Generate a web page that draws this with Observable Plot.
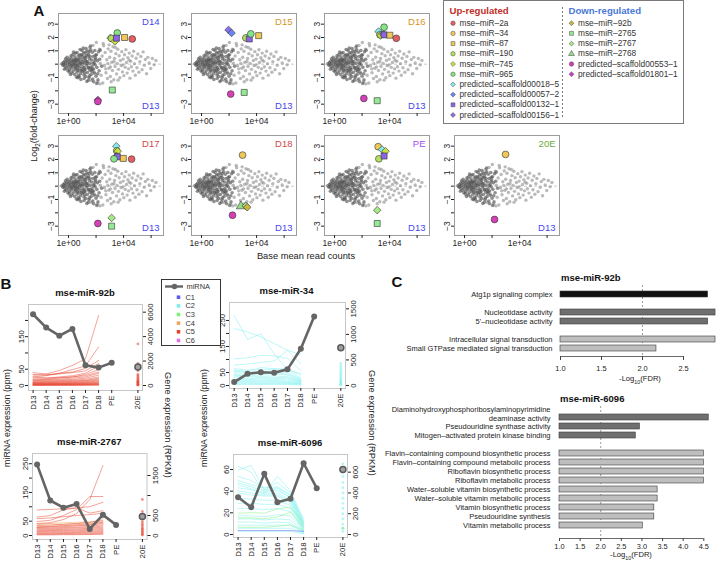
<!DOCTYPE html>
<html><head><meta charset="utf-8">
<script src="https://cdn.jsdelivr.net/npm/d3@7"></script>
<script src="https://cdn.jsdelivr.net/npm/@observablehq/plot@0.6"></script>
<style>
body{margin:0;background:#fff;}
#root{position:relative;width:716px;height:565px;overflow:hidden;background:#fff;font-family:"Liberation Sans",Arial,sans-serif;color:#222;}
.t{position:absolute;white-space:nowrap;line-height:1;}
</style></head><body><div id="root"></div>
<script>
// ---------------- DATA ----------------
// Panel A: stages compared against D13
const stageNames = ["D14","D15","D16","D17","D18","PE","20E"];
const stageColors = ["#4646ee","#d6951e","#d6951e","#d24848","#d24848","#a24cf0","#6ca83c"];
// miRNA legend
const mirNames = ["mse-miR-2a","mse-miR-34","mse-miR-87","mse-miR-190","mse-miR-745","mse-miR-965",
  "predicted-scaffold00018-5","predicted-scaffold00057-2","predicted-scaffold00132-1","predicted-scaffold00156-1",
  "mse-miR-92b","mse-miR-2765","mse-miR-2767","mse-miR-2768","predicted-scaffold00553-1","predicted-scaffold01801-1"];
const mirGroup = ["up","up","up","up","up","up","up","up","up","up","down","down","down","down","down","down"];
const mirColors = ["#e46060","#f0c858","#f0c858","#b4e05a","#c8e040","#84e684",
  "#86e8ea","#6a86f0","#8c64e6","#8a70ec",
  "#ccb640","#94ea94","#a4ea84","#96dc88","#d640b6","#c444c8"];
const mirShapes = ["circle","circle","square","circle","diamond2","circle",
  "diamond2","diamond2","square","diamond2",
  "diamond2","square","diamond2","triangle","circle","diamond2"];
// highlighted miRNAs: stage, miRNA, log10(base mean), log2(fold-change)
const markers = [
  {p:"D14",m:"predicted-scaffold00018-5",x:3.05,y:1.97},{p:"D14",m:"mse-miR-190",x:3.12,y:1.93},
  {p:"D14",m:"mse-miR-745",x:3.37,y:1.71},{p:"D14",m:"mse-miR-965",x:3.54,y:2.34},
  {p:"D14",m:"predicted-scaffold00132-1",x:3.48,y:1.95},{p:"D14",m:"mse-miR-87",x:4.07,y:2.0},
  {p:"D14",m:"mse-miR-2a",x:4.63,y:1.89},{p:"D14",m:"mse-miR-2765",x:3.18,y:-1.94},
  {p:"D14",m:"predicted-scaffold01801-1",x:2.13,y:-2.68},{p:"D14",m:"predicted-scaffold00553-1",x:2.13,y:-2.8},
  {p:"D15",m:"predicted-scaffold00156-1",x:1.96,y:2.57},{p:"D15",m:"predicted-scaffold00057-2",x:2.18,y:2.34},
  {p:"D15",m:"mse-miR-190",x:3.22,y:1.97},{p:"D15",m:"predicted-scaffold00132-1",x:3.47,y:1.89},
  {p:"D15",m:"mse-miR-965",x:3.58,y:2.27},{p:"D15",m:"mse-miR-87",x:4.15,y:2.14},
  {p:"D15",m:"predicted-scaffold00553-1",x:2.12,y:-2.24},{p:"D15",m:"mse-miR-2765",x:3.1,y:-2.12},
  {p:"D16",m:"predicted-scaffold00018-5",x:3.2,y:2.45},{p:"D16",m:"mse-miR-190",x:3.3,y:2.2},
  {p:"D16",m:"mse-miR-745",x:3.35,y:2.15},{p:"D16",m:"predicted-scaffold00156-1",x:3.55,y:2.25},
  {p:"D16",m:"predicted-scaffold00132-1",x:3.6,y:2.2},{p:"D16",m:"mse-miR-965",x:3.6,y:2.77},
  {p:"D16",m:"mse-miR-87",x:4.02,y:2.17},{p:"D16",m:"mse-miR-2a",x:4.49,y:1.94},
  {p:"D16",m:"predicted-scaffold00553-1",x:2.13,y:-2.57},{p:"D16",m:"mse-miR-2765",x:3.1,y:-2.74},
  {p:"D17",m:"predicted-scaffold00018-5",x:3.47,y:3.0},{p:"D17",m:"mse-miR-190",x:3.5,y:2.65},
  {p:"D17",m:"mse-miR-745",x:3.57,y:2.62},{p:"D17",m:"predicted-scaffold00156-1",x:3.5,y:2.25},
  {p:"D17",m:"predicted-scaffold00132-1",x:3.55,y:2.2},{p:"D17",m:"mse-miR-965",x:3.3,y:2.05},
  {p:"D17",m:"mse-miR-87",x:3.98,y:2.08},{p:"D17",m:"mse-miR-2a",x:4.58,y:2.03},
  {p:"D17",m:"predicted-scaffold00553-1",x:2.13,y:-2.8},{p:"D17",m:"mse-miR-2767",x:3.13,y:-2.38},
  {p:"D17",m:"mse-miR-2765",x:3.13,y:-3.0},
  {p:"D18",m:"mse-miR-34",x:2.98,y:2.33},{p:"D18",m:"mse-miR-2768",x:2.86,y:-1.5},
  {p:"D18",m:"mse-miR-2767",x:3.22,y:-1.48},{p:"D18",m:"mse-miR-92b",x:3.32,y:-1.58},
  {p:"D18",m:"predicted-scaffold00553-1",x:2.25,y:-2.18},
  {p:"PE",m:"mse-miR-34",x:3.17,y:2.96},{p:"PE",m:"predicted-scaffold00018-5",x:3.45,y:2.75},
  {p:"PE",m:"mse-miR-745",x:3.7,y:2.62},{p:"PE",m:"mse-miR-190",x:3.22,y:2.05},
  {p:"PE",m:"predicted-scaffold00132-1",x:3.6,y:2.26},{p:"PE",m:"mse-miR-2767",x:3.1,y:-1.8},
  {p:"PE",m:"mse-miR-2765",x:3.1,y:-2.8},
  {p:"20E",m:"mse-miR-34",x:2.98,y:2.38},{p:"20E",m:"predicted-scaffold00553-1",x:2.18,y:-2.5}
];
// background miRNAs: [log10(base mean), log2(fold-change)] — dense low-count cluster and sparser high-count ones
const bgDark = [
[-0.48,0.03],[-0.41,-0.08],[-0.37,0.12],[-0.33,-0.02],[-0.28,0.21],[-0.26,-0.17],[-0.21,0.07],[-0.18,-0.31],[-0.12,0.28],[-0.09,-0.06],
[-0.05,0.16],[-0.02,-0.22],[0.03,0.37],[0.06,0.02],[0.08,-0.41],[0.13,0.11],[0.16,-0.13],[0.19,0.46],[0.22,-0.29],[0.27,0.24],
[0.29,-0.03],[0.33,-0.52],[0.36,0.33],[0.39,0.08],[0.42,-0.21],[0.46,0.55],[0.48,-0.38],[0.52,0.17],[0.55,-0.09],[0.58,0.41],
[0.61,-0.61],[0.63,0.04],[0.67,0.29],[0.69,-0.27],[0.72,0.63],[0.75,-0.47],[0.78,0.12],[0.81,-0.14],[0.83,0.48],[0.87,-0.71],
[0.89,0.22],[0.92,-0.33],[0.95,0.71],[0.97,0.01],[1.01,-0.56],[1.03,0.36],[1.06,-0.19],[1.09,0.84],[1.12,-0.82],[1.14,0.09],
[1.17,0.52],[1.2,-0.41],[1.23,0.27],[1.26,-0.93],[1.28,0.66],[1.31,-0.07],[1.34,0.98],[1.37,-0.62],[1.4,0.18],[1.43,-0.28],
[1.46,0.77],[1.49,-1.02],[1.52,0.41],[1.55,-0.46],[1.58,0.06],[1.61,1.08],[1.64,-0.78],[1.67,0.31],[1.7,-0.17],[1.73,0.89],
[1.76,-1.11],[1.79,0.57],[1.82,-0.36],[1.85,0.14],[1.88,-0.69],[1.91,1.02],[1.94,-0.05],[1.97,0.46],[2.0,-0.91],[2.03,0.71],
[2.06,-0.24],[2.1,0.25],[2.14,-1.18],[2.18,0.93],[2.22,-0.49],[2.26,0.37],
[0.11,0.25],[0.24,-0.11],[0.35,0.19],[0.44,-0.02],[0.53,-0.26],[0.57,0.27],[0.66,-0.12],[0.74,0.37],[0.86,0.05],[0.93,-0.48],
[1.04,0.15],[1.16,-0.28],[1.24,0.45],[1.36,0.03],[1.47,-0.24],[1.56,0.58],[1.69,-0.55],[1.81,0.03],[1.92,0.32],[0.71,-0.86],
[1.0,0.6],[1.19,-0.67],[1.41,0.62],[1.62,-0.31],
[0.05,-0.58],[0.18,0.62],[0.31,0.71],[0.44,-0.77],[0.62,0.88],[0.79,-0.95],[0.98,1.02],[1.13,-1.08],[1.27,1.18],[1.44,-1.21],
[0.25,-0.66],[0.5,0.82],[0.68,-1.02],[0.9,-1.15],[1.07,1.2],[1.33,-1.3],[1.6,1.35],[1.83,-1.32],[2.05,-1.45],[2.3,1.05],
[-0.22,0.41],[-0.3,-0.38],[-0.1,0.52],[-0.05,-0.49],[0.14,-0.78],[0.37,0.9],[0.57,-0.97],[0.84,1.1],[1.21,0.88],[1.52,-0.88],
[0.47,0.33],[0.64,-0.44],[0.82,0.71],[1.11,-0.45],[1.29,0.2],[1.5,0.97],[1.72,-0.41],[1.95,0.66],[2.12,-0.72],[2.4,-0.15]
];
const bgLight = [
[1.53,1.25],[1.66,-1.22],[1.78,1.41],[1.87,-0.58],[2.02,1.62],[2.11,-1.34],[2.24,1.13],[2.31,0.08],[2.37,-0.83],[2.44,0.61],
[2.49,-1.41],[2.55,1.38],[2.61,-0.12],[2.66,0.87],[2.72,-0.64],[2.78,0.33],[2.83,-1.08],[2.88,1.15],[2.93,-0.31],[2.99,0.52],
[3.04,-0.92],[3.08,0.97],[3.14,0.14],[3.19,-0.47],[3.23,1.31],[3.29,-1.17],[3.34,0.42],[3.38,-0.18],[3.44,0.79],[3.49,-0.73],
[3.53,0.05],[3.58,1.12],[3.63,-0.39],[3.68,0.63],[3.73,-1.02],[3.77,0.27],[3.82,-0.11],[3.87,0.94],[3.92,-0.58],[3.97,0.38],
[4.02,-0.86],[4.07,0.71],[4.12,-0.24],[4.17,1.09],[4.21,0.12],[4.26,-0.67],[4.31,0.49],[4.36,-0.35],[4.41,0.83],[4.46,-1.05],
[4.52,0.22],[4.57,-0.19],[4.62,0.61],[4.68,-0.52],[4.73,0.97],[4.79,0.04],[4.85,-0.83],[4.91,0.44],[4.97,-0.27],[5.04,0.76],
[5.11,-0.61],[5.18,0.18],[5.26,0.58],[5.34,-0.41],[5.42,0.92],[5.5,-0.09],[5.58,0.35],[5.67,-0.72],[5.76,0.51],[5.86,0.09],
[5.97,-0.32],[6.09,0.43],[6.22,-0.05],[6.35,0.27],
[2.28,-1.48],[2.52,1.55],[2.95,1.45],[3.1,-1.32],[3.4,1.25],[3.6,-1.2],[2.85,0.05],[3.3,0.2],[3.95,-0.05],[4.4,0.3],[2.7,-0.35],[3.05,-0.2]
];

// Panel B
const dayLabels = ["D13","D14","D15","D16","D17","D18","PE","20E"];
const dayPos = [0,1,2,3,4,5,6,8];
const clusterNames = ["C1","C2","C3","C4","C5","C6"];
const clusterColors = ["#5a5af0","#7aeeee","#7cf07c","#f2a260","#e6432f","#e270ea"];
// miRNA expression (ppm) at D13..PE, then 20E
const mir92b = [219,178,153,174,62,55,70,57];
const mir34 = [13,45,51,49,62,141,265,145];
const mir2767 = [247,122,97,110,23,72,37,66];
const mir6096 = [34.4,25.2,56,29.8,33,65.8,42.8,60];
// target gene expression (RPKM) D13..D18
const g92b_C5 = [[1050,950,1230,1640,2180,5730],[700,800,1000,1300,1600,3150],[900,850,1000,1100,1400,2050],
 [850,880,950,1050,1200,1800],[600,620,700,800,1000,1600],[500,520,600,700,900,1300],[700,600,650,700,800,1100],
 [450,480,520,600,700,1000],[400,420,450,500,600,850],[350,360,400,430,500,700],[300,320,340,380,420,600],
 [250,270,300,330,380,520],[220,230,250,280,320,450],[200,200,210,240,270,380],[180,170,180,200,230,320],
 [150,150,160,170,200,260],[120,130,130,140,160,210],[100,100,110,120,130,170],[80,80,90,95,110,140],
 [60,60,70,70,80,100],[40,45,50,55,60,80],[20,25,30,30,35,50],[10,10,15,15,20,25]];
const g92b_C5_20E = [3400,1800,1500,1200,900,800,700,600,500,400,350,300,250,200,150,100,60,30];
const g34_C2 = [[1370,900,1010,620,300,230],[1110,1050,950,820,690,420],[520,540,590,580,530,290],
 [400,420,450,480,690,600],[330,300,310,320,330,200],[300,280,350,330,300,150],[280,260,270,290,250,130],
 [250,240,230,250,220,120],[220,200,210,230,200,100],[200,190,180,190,170,90],[180,170,160,160,150,80],
 [150,140,140,140,130,70],[120,120,110,120,100,60],[100,100,90,100,80,50],[80,80,70,80,60,40],
 [60,60,50,60,50,30],[40,40,35,40,35,20],[20,20,20,20,20,10]];
const g34_C2_20E = [430,380,340,300,260,220,190,160,130,100,80,60,40,20,10];
const g2767_C5 = [[300,320,400,550,900,1750],[350,380,500,650,975,975],[640,650,670,690,720,830],
 [460,500,640,690,560,620],[420,440,470,500,520,560],[250,260,280,300,330,380],[220,230,250,270,290,330],
 [200,210,220,240,260,300],[180,185,200,210,230,270],[160,165,175,190,200,240],[140,145,150,165,180,210],
 [120,125,130,140,155,180],[100,105,110,120,130,150],[80,85,90,95,105,125],[60,65,70,75,80,100],
 [45,45,50,55,60,75],[30,30,35,35,40,50],[15,15,20,20,25,30]];
const g2767_C4 = [[290,300,320,330,340,350],[270,290,280,300,320,420],[200,220,240,250,270,330]];
const g2767_C5_20E = [900,600,500,420,350,300,260,220,180,150,120,90,60,30,10];
const g6096_C2 = [[655,600,400,560,420,150],[620,665,430,450,380,130],[560,520,440,500,400,120],
 [520,480,450,460,380,110],[500,460,420,420,360,100],[480,440,400,440,350,90],[450,430,390,400,330,80],
 [420,400,380,380,320,70],[400,380,370,370,300,60],[350,340,330,330,280,50],[300,300,290,290,250,40],
 [250,250,240,250,220,35],[180,180,170,190,180,30],[150,150,140,150,140,25],[120,120,110,120,110,20],
 [90,90,90,90,90,15],[60,60,60,60,60,10],[30,30,30,30,30,5]];
const g6096_C3 = [[205,210,205,247,263,103],[161,161,150,170,215,70],[70,70,70,80,90,40]];
const g6096_C1 = [[38,38,38,38,38,30]];
const g6096_C2_20E = [680,640,600,560,500,450,400,350,300,250,200,150,100,60,30];
const g6096_C3_20E = [60];

// Panel C
const c92bTerms = ["Atg1p signaling complex","Nucleotidase activity","5'–nucleotidase activity",
 "Intracellular signal transduction","Small GTPase mediated signal transduction"];
const c92bValues = [2.80,2.89,2.80,2.89,2.17];
const c92bType = ["CC","MF","MF","BP","BP"];
const c6096Terms = ["Diaminohydroxyphosphoribosylaminopyrimidine\ndeaminase activity","Pseudouridine synthase activity",
 "Mitogen–activated protein kinase binding","Flavin–containing compound biosynthetic process",
 "Flavin–containing compound metabolic process","Riboflavin biosynthetic process","Riboflavin metabolic process",
 "Water–soluble vitamin biosynthetic process","Water–soluble vitamin metabolic process",
 "Vitamin biosynthetic process","Pseudouridine synthesis","Vitamin metabolic process"];
const c6096Values = [4.62,2.95,2.85,4.50,4.50,4.50,4.50,3.38,3.38,3.30,3.30,3.02];
const c6096Type = ["MF","MF","MF","BP","BP","BP","BP","BP","BP","BP","BP","BP"];
const typeNames = ["CC","MF","BP"];
const typeColors = ["#111111","#6f6f6f","#bebebe"];
const c92bTicks = [1.0,1.5,2.0,2.5];
const c6096Ticks = [1.0,1.5,2.0,2.5,3.0,3.5,4.0,4.5];

// ---------------- DRAWING ----------------
const root = document.getElementById("root");
const FONT = "Liberation Sans, Arial, sans-serif";
const baseStyle = {fontFamily: FONT, fontSize: "8px", background: "transparent", overflow: "visible", color: "#222"};
function put(node, left, top){ node.style.position="absolute"; node.style.left=left+"px"; node.style.top=top+"px"; root.appendChild(node); return node; }
function txt(html, x, y, o={}){
  const d=document.createElement("div"); d.className="t"; d.innerHTML=html;
  d.style.left=x+"px"; d.style.top=y+"px";
  d.style.fontSize=(o.size||9)+"px"; d.style.fontWeight=o.weight||"normal"; d.style.color=o.color||"#222";
  const ax = o.anchor==="start"?"0":o.anchor==="end"?"-100%":"-50%";
  d.style.transform=`translate(${ax},-50%)`+(o.rotate?` rotate(${o.rotate}deg)`:"");
  root.appendChild(d); return d;
}
const dash = s => s.replace(/-/g,"–");

// ---- Panel A ----
const aLayout = [[58,13],[191,13],[324,13],[58,135],[191,135],[324,135],[454,135]];
const yLab = {3:"3",2:"2",1:"1","-1":"−1","-3":"−3"};
stageNames.forEach((name,i)=>{
  const [fl,ft]=aLayout[i];
  const mL=22,mR=2,mT=2,mB=20, fw=105, fh=100;
  const pts = markers.filter(d=>d.p===name);
  const svg = Plot.plot({
    width:fw+mL+mR, height:fh+mT+mB, marginLeft:mL, marginRight:mR, marginTop:mT, marginBottom:mB, style:baseStyle,
    x:{domain:[-0.73,6.9]}, y:{domain:[-3.7,3.8]},
    symbol:{domain:mirNames, range:mirShapes}, color:{domain:mirNames, range:mirColors},
    marks:[
      Plot.frame({stroke:"#9c9c9c"}),
      Plot.ruleY([0],{stroke:"#b4b4b4",strokeDasharray:"3,2",strokeWidth:0.7}),
      Plot.dot(bgLight,{x:d=>d[0],y:d=>d[1],r:1.7,fill:"#8c8c8c",fillOpacity:0.6}),
      Plot.dot(bgDark,{x:d=>d[0],y:d=>d[1],r:1.8,fill:"#555",fillOpacity:0.65}),
      Plot.dot(pts,{x:"x",y:"y",symbol:"m",fill:"m",stroke:"#333",strokeWidth:0.6,r:3.4}),
      Plot.text([name],{frameAnchor:"top-right",dx:-4,dy:5,fill:stageColors[i],fontSize:9.5}),
      Plot.text(["D13"],{frameAnchor:"bottom-right",dx:-4,dy:-5,fill:"#4646ee",fontSize:9.5}),
      Plot.axisX({ticks:[0,2,4,6],tickFormat:d=>d===0?"1e+00":d===4?"1e+04":"",tickSize:3,tickPadding:1,fontSize:8.5,label:null}),
      Plot.axisY({ticks:[-3,-2,-1,0,1,2,3],tickFormat:d=>yLab[d]||"",tickRotate:-90,tickSize:3,tickPadding:2,fontSize:8.5,label:null})
    ]});
  put(svg, fl-mL, ft-mT);
});
txt("A",39,10,{size:15,weight:"bold",color:"#111"});
txt("Log<sub style='font-size:0.7em'>2</sub>(fold-change)",36,126,{size:9,rotate:-90});
txt("Base mean read counts",306,257,{size:9.3});

// A legend
{
  let ui=0, di=0;
  const rows = mirNames.map((m,i)=>{ const up = mirGroup[i]==="up"; return {m, col: up?0:1, row: up?ui++:di++}; });
  const lg = Plot.plot({
    width:240, height:123, margin:0, style:baseStyle,
    x:{type:"identity",axis:null}, y:{type:"identity",axis:null},
    symbol:{domain:mirNames, range:mirShapes}, color:{domain:mirNames, range:mirColors},
    marks:[
      Plot.frame({stroke:"#7a7a7a"}),
      Plot.ruleX([119],{y1:7,y2:118,stroke:"#777",strokeDasharray:"2,2"}),
      Plot.text(["Up-regulated"],{x:6,y:10,textAnchor:"start",fill:"#c0302a",fontWeight:"bold",fontSize:9.6}),
      Plot.text(["Down-regulated"],{x:125,y:10,textAnchor:"start",fill:"#4a78d6",fontWeight:"bold",fontSize:9.6}),
      Plot.dot(rows,{x:d=>d.col?128:9.5,y:d=>22.7+d.row*10.2,symbol:"m",fill:"m",stroke:"#444",strokeWidth:0.5,r:2.2}),
      Plot.text(rows,{x:d=>d.col?134.5:16,y:d=>22.7+d.row*10.2,text:d=>dash(d.m),textAnchor:"start",fontSize:8.3,fill:"#333"})
    ]});
  put(lg,443,0);
}

// ---- Panel B ----
function longify(lines, cluster){ const out=[]; lines.forEach((vals,i)=>vals.forEach((v,t)=>out.push({id:cluster+"_"+i,cluster,t,v}))); return out; }
function pts20E(vals, cluster){ return vals.map(v=>({cluster,v})); }
function bPanel(c){
  const mL=24,mR=26,mB=26;
  const W=(c.fr-c.fl)+mL+mR, H=(c.fb-c.ft)+mB;
  const xd=[-0.35,8.35];
  const common={width:W,height:H,marginLeft:mL,marginRight:mR,marginTop:0,marginBottom:mB,style:baseStyle};
  const gp = Plot.plot({...common, x:{domain:xd}, y:{domain:c.rightDom},
    color:{domain:clusterNames, range:clusterColors},
    marks:[
      Plot.frame({stroke:"#c6c6c6"}),
      Plot.lineY(c.genes,{x:d=>dayPos[d.t],y:"v",z:"id",stroke:"cluster",strokeWidth:0.9,strokeOpacity:0.55}),
      Plot.dot(c.g20E,{x:()=>8,y:"v",fill:"cluster",r:1.4,fillOpacity:0.55}),
      Plot.axisY({anchor:"right",ticks:c.rightTicks,tickFormat:d=>c.rightShow.includes(d)?String(d):"",tickRotate:-90,lineAnchor:"top",textAnchor:"middle",tickSize:3,tickPadding:2,fontSize:7.8,label:null}),
      Plot.axisX({ticks:dayPos,tickFormat:d=>dayLabels[dayPos.indexOf(d)],tickRotate:-90,tickSize:3,tickPadding:2,fontSize:7.8,label:null})
    ]});
  const rows = c.mir.map((v,i)=>({x:dayPos[i],v}));
  const mp = Plot.plot({...common, x:{domain:xd,axis:null}, y:{domain:c.leftDom},
    marks:[
      Plot.line(rows.slice(0,7),{x:"x",y:"v",stroke:"#656565",strokeWidth:2.6}),
      Plot.dot(rows.slice(0,7),{x:"x",y:"v",fill:"#656565",r:3}),
      Plot.dot(rows.slice(7),{x:"x",y:"v",fill:"#a0a0a0",stroke:"#5a5a5a",strokeWidth:1.5,r:3}),
      Plot.axisY({anchor:"left",ticks:c.leftTicks,tickFormat:d=>c.leftShow.includes(d)?String(d):"",tickRotate:-90,tickSize:3,tickPadding:2,fontSize:7.8,label:null})
    ]});
  put(gp,c.fl-mL,c.ft); put(mp,c.fl-mL,c.ft);
  txt(c.title,(c.fl+c.fr)/2,c.ft-11,{size:9.5,weight:"bold",color:"#111"});
}
bPanel({title:"mse-miR-92b",fl:28,fr:142,ft:304,fb:390,leftDom:[-15.4,249],rightDom:[-409,6628],
  leftTicks:[0,50,100,150,200],leftShow:[0,50,150],rightTicks:[0,2000,4000,6000],rightShow:[0,2000,4000,6000],
  genes:longify(g92b_C5,"C5"),g20E:pts20E(g92b_C5_20E,"C5"),mir:mir92b});
bPanel({title:"mse-miR-34",fl:228.5,fr:344.5,ft:302,fb:388,leftDom:[-11.5,319],rightDom:[-59,1624],
  leftTicks:[0,50,100,150,200,250],leftShow:[0,50,150,250],rightTicks:[0,500,1000,1500],rightShow:[0,500,1000,1500],
  genes:longify(g34_C2,"C2"),g20E:pts20E(g34_C2_20E,"C2"),mir:mir34});
bPanel({title:"mse-miR-2767",fl:32,fr:146.5,ft:453,fb:539,leftDom:[-13.9,285.7],rightDom:[-100,2050],
  leftTicks:[0,50,100,150,200,250],leftShow:[0,50,150,250],rightTicks:[0,500,1000,1500],rightShow:[0,500,1500],
  genes:[...longify(g2767_C4,"C4"),...longify(g2767_C5,"C5")],g20E:pts20E(g2767_C5_20E,"C5"),mir:mir2767});
bPanel({title:"mse-miR-6096",fl:233,fr:347,ft:454,fb:537,leftDom:[-2.8,73.9],rightDom:[-28.9,770],
  leftTicks:[0,20,40,60],leftShow:[0,20,40,60],rightTicks:[0,200,400,600],rightShow:[0,200,400,600],
  genes:[...longify(g6096_C2,"C2"),...longify(g6096_C3,"C3"),...longify(g6096_C1,"C1")],
  g20E:[...pts20E(g6096_C2_20E,"C2"),...pts20E(g6096_C3_20E,"C3")],mir:mir6096});
txt("B",6,283,{size:15,weight:"bold",color:"#111"});
txt("miRNA expression (ppm)",7,418,{size:8.8,rotate:-90});
txt("miRNA expression (ppm)",204,418,{size:8.8,rotate:-90});
txt("Gene expression (RPKM)",167,425,{size:9.3,rotate:90});
txt("Gene expression (RPKM)",371,423,{size:9.3,rotate:90});
// B legend
{
  const items = clusterNames.map((c,i)=>({c,i}));
  const lg = Plot.plot({width:59,height:66,margin:0,style:{...baseStyle,background:"#fff"},
    x:{type:"identity",axis:null},y:{type:"identity",axis:null},
    color:{domain:clusterNames,range:clusterColors},
    marks:[
      Plot.frame({stroke:"#222",strokeWidth:0.9}),
      Plot.ruleY([7],{x1:4,x2:22,stroke:"#656565",strokeWidth:2.4}),
      Plot.dot([13],{x:d=>d,y:7,fill:"#656565",r:2.8}),
      Plot.text(["miRNA"],{x:25,y:7,textAnchor:"start",fontSize:7.4,fill:"#333"}),
      Plot.dot(items,{x:17,y:d=>17.7+d.i*8.65,symbol:"square",fill:"c",r:2}),
      Plot.text(items,{x:24,y:d=>17.7+d.i*8.65,text:"c",textAnchor:"start",fontSize:7.4,fill:"#333"})
    ]});
  put(lg,161,279);
}

// ---- Panel C ----
function cPanel(c){
  const rows=[]; const domain=[]; let prev=null, g=0;
  c.terms.forEach((t,i)=>{ if(prev!==null && c.types[i]!==prev) domain.push("gap"+(g++)); domain.push(t); rows.push({term:t,value:c.values[i],type:c.types[i]}); prev=c.types[i]; });
  const single = rows.filter(d=>!d.term.includes("\n")), multi = rows.filter(d=>d.term.includes("\n"));
  const mT=4, H=(c.bandBottom-c.bandTop)+mT+1;
  const svg = Plot.plot({width:716-360,height:H,marginLeft:c.frameLeft-360,marginRight:0,marginTop:mT,marginBottom:1,style:baseStyle,
    x:{domain:c.xDomain,axis:null}, y:{type:"band",domain,paddingInner:0.3,paddingOuter:0.15,range:[mT,H-1],axis:null},
    color:{domain:typeNames,range:typeColors},
    marks:[
      Plot.ruleX([2],{stroke:"#9a9a9a",strokeDasharray:"2,2",insetTop:-3,insetBottom:c.dashBottom}),
      Plot.barX(rows,{y:"term",x1:()=>1,x2:"value",fill:"type",stroke:"#3a3a3a",strokeWidth:0.6}),
      Plot.text(single,{y:"term",text:"term",frameAnchor:"left",textAnchor:"end",dx:-c.labelPad,fontSize:7.5,fill:"#222"}),
      Plot.text(multi,{y:"term",text:"term",frameAnchor:"left",textAnchor:"end",dx:-c.labelPad,dy:-3.5,lineHeight:1.15,fontSize:7.5,fill:"#222"})
    ]});
  put(svg,360,c.bandTop-mT);
  const ax = Plot.plot({width:716-360,height:20,marginLeft:c.frameLeft-360,marginRight:0,marginTop:1,marginBottom:19,style:baseStyle,
    x:{domain:c.xDomain}, y:{domain:[0,1],axis:null},
    marks:[
      Plot.ruleY([0],{x1:d3.min(c.ticks),x2:d3.max(c.ticks),stroke:"#444",strokeWidth:0.8}),
      Plot.axisX({ticks:c.ticks,tickFormat:d3.format(".1f"),tickSize:c.tickSize,tickPadding:c.tickPad,fontSize:7.4,label:null,stroke:"#444"})
    ]});
  put(ax,360,c.axisY-1);
  txt(c.title,c.frameLeft+1,c.bandTop-10,{size:9.5,weight:"bold",color:"#111",anchor:"start"});
  txt("-Log<sub style='font-size:0.7em'>10</sub>(FDR)",c.xlabX,c.xlabY,{size:7.6});
}
cPanel({title:"mse-miR-92b",terms:c92bTerms,values:c92bValues,types:c92bType,frameLeft:560,bandTop:288,bandBottom:354,
  xDomain:[1,2.902],ticks:c92bTicks,axisY:356,tickSize:4,tickPad:5,labelPad:8,dashBottom:-2,xlabX:640,xlabY:380});
cPanel({title:"mse-miR-6096",terms:c6096Terms,values:c6096Values,types:c6096Type,frameLeft:559,bandTop:408.5,bandBottom:532.5,
  xDomain:[1,4.808],ticks:c6096Ticks,axisY:538.3,tickSize:3,tickPad:2.5,labelPad:9,dashBottom:-6,xlabX:631,xlabY:556});
txt("C",397,281,{size:15,weight:"bold",color:"#111"});
</script></body></html>
